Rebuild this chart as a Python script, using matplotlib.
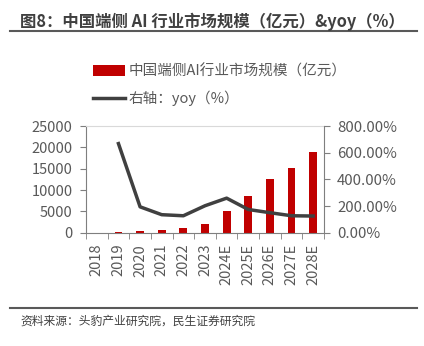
import numpy as np
import matplotlib.pyplot as plt
from matplotlib.lines import Line2D

plt.rcParams['font.family'] = ['Noto Sans CJK SC', 'DejaVu Sans']

years = ['2018', '2019', '2020', '2021', '2022', '2023',
         '2024E', '2025E', '2026E', '2027E', '2028E']
market = [30, 150, 350, 600, 1000, 2000, 5100, 8700, 12500, 15250, 18850]
yoy = [np.nan, 668, 194, 135, 127, 202, 259, 174, 150, 127, 125]

red = '#C00000'
gray_line = '#404040'
txt = '#595959'

fig = plt.figure(figsize=(4.24, 3.46), dpi=100)

fig.text(20 / 424, 1 - 22 / 346, '图8：中国端侧 AI 行业市场规模（亿元）&yoy（%）',
         fontsize=11.8, fontweight='bold', color='#404040', va='center', ha='left')
fig.add_artist(Line2D([10 / 424, 417 / 424], [1 - 31 / 346, 1 - 31 / 346],
                      color='#595959', lw=1.5))
fig.add_artist(Line2D([10 / 424, 417 / 424], [1 - 308 / 346, 1 - 308 / 346],
                      color='#595959', lw=1.5))
fig.text(20 / 424, 1 - 321 / 346, '资料来源：头豹产业研究院，民生证券研究院',
         fontsize=8.5, color='#404040', va='center', ha='left')

ax = fig.add_axes([86 / 424, 1 - 232.7 / 346, 238 / 424, 106.7 / 346])
x = np.arange(len(years))
bars = ax.bar(x, market, width=0.36, color=red, zorder=2)
ax.set_xlim(-0.5, len(years) - 0.5)
ax.set_ylim(0, 25000)
ax.set_yticks(range(0, 25001, 5000))
ax.set_xticks(x)
ax.set_xticklabels(years, rotation=90)
ax.set_xticks(np.arange(-0.5, len(years), 1), minor=True)
ax.tick_params(axis='x', which='major', length=0, pad=8, labelsize=10.5, labelcolor=txt)
ax.tick_params(axis='x', which='minor', length=4, color='#7f7f7f', direction='out')
ax.tick_params(axis='y', length=4.5, color='#7f7f7f', labelsize=10.5, labelcolor=txt, pad=5)
for s in ['left', 'bottom']:
    ax.spines[s].set_color('#7f7f7f')
ax.spines['top'].set_color('#d9d9d9')
ax.spines['top'].set_linewidth(0.8)
ax.spines['right'].set_visible(False)

ax2 = ax.twinx()
line, = ax2.plot(x, yoy, color=gray_line, lw=2.5, zorder=3)
ax2.set_ylim(0, 800)
ax2.set_yticks(range(0, 801, 200))
ax2.set_yticklabels([f'{v:.2f}%' for v in range(0, 801, 200)])
ax2.tick_params(axis='y', length=4.5, color='#7f7f7f', labelsize=10.8, labelcolor=txt, pad=5)
ax2.spines['right'].set_color('#7f7f7f')
for s in ['left', 'top', 'bottom']:
    ax2.spines[s].set_visible(False)

fig.legend([bars, line], ['中国端侧AI行业市场规模（亿元）', '右轴：yoy（%）'],
           loc='upper left', bbox_to_anchor=(86 / 424, 1 - 57 / 346),
           frameon=False, fontsize=10.5, labelcolor=txt, handlelength=2.2,
           handletextpad=0.2, labelspacing=0.85, borderpad=0)

fig.savefig('out.png', dpi=100)
